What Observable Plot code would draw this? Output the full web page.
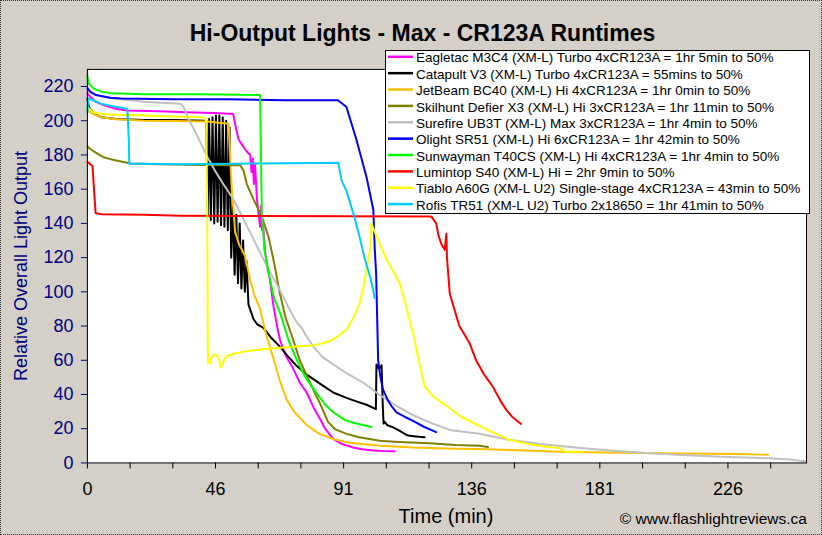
<!DOCTYPE html>
<html><head><meta charset="utf-8">
<script src="https://cdn.jsdelivr.net/npm/d3@7"></script>
<script src="https://cdn.jsdelivr.net/npm/@observablehq/plot@0.6"></script>
<style>
html,body{margin:0;padding:0;background:#fff;}
#wrap{position:relative;width:822px;height:535px;background:#d4d0c8;font-family:"Liberation Sans",Arial,sans-serif;overflow:hidden;box-sizing:border-box;border:1px dotted #333;}
#chart{position:absolute;left:-1px;top:-1px;}
.t{position:absolute;white-space:nowrap;line-height:1;}
#title{left:421.5px;top:21px;transform:translateX(-50%);font-weight:bold;font-size:23px;color:#000;}
#xlabel{left:445px;top:505px;transform:translateX(-50%);font-size:20px;color:#000;}
#ylabel{left:20px;top:265px;transform:translate(-50%,-50%) rotate(-90deg);font-size:18px;color:#000080;}
#credit{right:14px;top:510px;font-size:15.5px;color:#000;}
#legend{position:absolute;left:384px;top:49px;}
</style>
</head><body>
<div id="wrap">
  <div id="chart"></div>
  <div id="title" class="t">Hi-Output Lights - Max - CR123A Runtimes</div>
  <div id="xlabel" class="t">Time (min)</div>
  <div id="ylabel" class="t">Relative Overall Light Output</div>
  <div id="credit" class="t">© www.flashlightreviews.ca</div>
  <div id="legend"></div>
</div>
<script>
// ---- Data (time in minutes, relative output) ----
const eagletac = [[0,216],[1,214],[3,211],[6,209],[10,207],[14,206],[25,205.5],[35,205],[45,204.5],[51.5,204],[52.2,198],[53.4,189],[55,185],[56.3,182],[57.5,180],[58,170],[58.4,178],[58.8,163],[59.2,175],[59.9,154],[60.5,145],[61,138],[61.3,150],[61.7,136],[62,140],[62.8,123],[63.5,115],[64.5,107],[65.7,92],[67,80],[68,72],[70,63],[72.7,55],[75,47],[77.5,41],[80,32],[82.1,26],[84,20],[86.8,14],[90,11],[93.9,9],[97,8],[101,7.2],[105,6.9],[108.6,6.8]];
const catapult = [[0,213],[0.5,208],[2.3,204],[5,202],[10,201],[20,200.5],[30,200.5],[42,200],[42.5,145],[43,201],[43.6,142],[44.2,202],[44.8,140],[45.4,203],[46,141],[46.6,203],[47.2,139],[47.8,202],[48.4,138],[49,200],[49.6,136],[50.2,196],[50.8,120],[51.4,150],[52,110],[52.6,145],[53.2,105],[53.8,140],[54.4,102],[55,130],[55.6,100],[56.2,118],[56.9,92.5],[58.7,84],[60,81],[62.2,79],[65,73],[68,68],[71,62],[74,56.6],[78,51],[83.3,45],[87,41],[91.5,38],[95,36],[98.6,34],[101.9,31.4],[102.1,57.6],[103,55],[103.9,57],[104.3,35],[104.6,23],[105,24],[106,22],[108,20.8],[110,19],[113.2,16],[116,15.5],[119.1,15]];
const jetbeam = [[0,206],[2,204],[5,202],[9.4,201],[20,200],[30,199.8],[42.3,199.6],[49.9,198.3],[50.3,185],[50.5,177],[51,160],[51.5,150],[52.2,135],[53.5,128],[55.7,121],[57.5,107],[59,98],[61,90],[63,76],[65.7,61],[68,48],[70.4,37],[73,30],[77.5,22],[82,17],[86.8,14],[92,12],[97,11],[103.3,10],[115,9],[130,8.3],[138.5,8.1],[150,7.5],[169,6.4],[190,6],[210,5.5],[230,5.2],[240.4,4.8]];
const skilhunt = [[0,185],[1,183.5],[3.5,180.8],[6,178.5],[9.4,177],[15.2,175],[25,174.5],[40,174.2],[54,174],[55.1,171],[56.3,163],[58.7,154],[61.6,144],[64,132],[65.7,119],[68,99],[70,85],[72.7,72],[75,60],[77.5,51],[80,42],[82.1,35],[85,24],[87.4,19.8],[91.5,17],[96,15],[103.3,13],[110,12.3],[120.9,11.5],[130,10.5],[138.5,10],[141.5,9.3]];
const surefire = [[0,229],[0.2,217],[3,215],[9.4,213],[21,211],[32.9,210],[34,208],[36,200],[38,194],[42.3,179],[45,171],[48,163],[51.6,154],[55,143],[58,133],[61.6,121],[64,113],[68,101],[71,91],[74,82],[75.7,79],[77,75],[79.8,68],[83,62],[86.8,57.6],[92,52],[97.4,47],[103,40],[109.2,33.4],[115,28],[120.9,23.7],[128,19.3],[138.5,17],[149,13.5],[160,11],[175,8.6],[187,7],[198.6,5.7],[210,4.7],[222,3.8],[232,3.2],[241,2.8],[248,2],[254,0.9]];
const olight = [[0,219],[1,217],[3,215],[8,213.5],[12,213],[30,212.5],[50,212.5],[70,212],[88.5,212],[91.5,208],[95,189],[98.6,167],[101,148],[101.5,125],[102,110],[102.7,60],[103.5,50],[104.4,43],[106,37],[107.5,33],[109.2,29.5],[112,27],[115,24.6],[119,21],[123.2,18]];
const sunwayman = [[0,226],[0.5,222],[2,219],[5,217],[9,216],[20,215.5],[40,215.5],[61,215],[61.3,180],[61.6,146],[62.5,125],[64.5,107],[66,96],[68,88],[71,72],[74,60],[77,50],[80,43],[84,34],[87,29.5],[91,25],[95,23],[100.3,21]];
const lumintop = [[0,176],[1.8,173.5],[2.9,146],[5,145.3],[20,145],[32.9,144.5],[60,144.3],[90,144.2],[121.5,144],[123.2,140],[124,133],[125,128],[126.2,124.6],[126.8,134],[127,120],[128,99],[130.3,86],[131.4,80],[135,70],[137.3,60],[140,52],[143.2,44.6],[146,36],[148,31],[150,27],[153.2,22.8]];
const tiablo = [[0,208],[2,205],[5,204],[10,203.5],[20,203],[30,202.5],[41,202],[42,200],[42.3,150],[42.5,80],[42.6,58.6],[43.2,58],[44,62.5],[45,63.4],[46.2,62],[47.2,55.7],[48,59],[49.3,62.5],[52,64],[56.3,65.4],[62,66.5],[68,67.3],[74,68],[79.8,68.7],[83,70],[85.7,71.2],[88,73.5],[91.5,78],[94,85],[96.2,93.5],[97.5,103],[98.6,113],[99.8,124.6],[100.3,140],[101.5,135],[103,129],[105.6,119],[108,112],[110.3,105],[112.5,92],[115,76],[117,60],[119.1,45],[122,39],[126.8,33.4],[132,27],[138.5,21.7],[143,18],[149,13.6],[156,11],[162,9.5],[166.8,8.7],[168.6,6.7],[175,6.5]];
const rofis = [[0,205],[0.3,213],[2,212],[4.7,210],[9,208.5],[14.1,207],[14.6,190],[14.8,175],[20,174.8],[32.9,174.6],[60,175],[88.6,175.4],[89.8,165],[91.5,159],[93.9,146],[96,133],[98,119],[100,108],[101.5,96.4]];

const seriesData = [eagletac, catapult, jetbeam, skilhunt, surefire, olight, sunwayman, lumintop, tiablo, rofis];
const seriesColors = ["#FF00FF","#000000","#FFC000","#808000","#C0C0C0","#0000FF","#00FF00","#FF0000","#FFFF00","#00CCFF"];
const legendLabels = [
  "Eagletac M3C4 (XM-L) Turbo 4xCR123A = 1hr 5min to 50%",
  "Catapult V3 (XM-L) Turbo 4xCR123A = 55mins to 50%",
  "JetBeam BC40 (XM-L) Hi 4xCR123A = 1hr 0min to 50%",
  "Skilhunt Defier X3 (XM-L) Hi 3xCR123A = 1hr 11min to 50%",
  "Surefire UB3T (XM-L) Max 3xCR123A = 1hr 4min to 50%",
  "Olight SR51 (XM-L) Hi 6xCR123A = 1hr 42min to 50%",
  "Sunwayman T40CS (XM-L) Hi 4xCR123A = 1hr 4min to 50%",
  "Lumintop S40 (XM-L) Hi = 2hr 9min to 50%",
  "Tiablo A60G (XM-L U2) Single-stage 4xCR123A = 43min to 50%",
  "Rofis TR51 (XM-L U2) Turbo 2x18650 = 1hr 41min to 50%"
];
const xTickLabels = ["0","46","91","136","181","226"];
const xTickStep = 45.25; // spacing of labelled ticks on the time axis
const yTicks = [0,20,40,60,80,100,120,140,160,180,200,220];

// ---- Chart ----
const xMajor = xTickLabels.map((_, i) => i * xTickStep);
const xMinor = d3.range(1, 17).filter(k => k % 3 !== 0).map(k => k * xTickStep / 3);

const chart = Plot.plot({
  width: 822, height: 535,
  marginLeft: 87, marginRight: 15, marginTop: 69, marginBottom: 72,
  style: {background: "transparent", fontFamily: "'Liberation Sans', Arial, sans-serif", overflow: "visible"},
  x: {domain: [0, 254]},
  y: {domain: [0, 230]},
  marks: [
    Plot.frame({fill: "white", stroke: null}),
    ...seriesData.map((d, i) => Plot.line(d, {x: p => p[0], y: p => p[1], stroke: seriesColors[i], strokeWidth: 2, strokeLinejoin: "round"})),
    Plot.frame({stroke: "#000", strokeWidth: 1}),
    Plot.axisY(yTicks, {tickSize: 6, tickPadding: 8, fontSize: 18, color: "#000080", label: null}),
    Plot.axisX(xMajor, {tickSize: 6, tickPadding: 13, fontSize: 18, color: "#000", label: null,
      tickFormat: d => xTickLabels[Math.round(d / xTickStep)]}),
    Plot.axisX(xMinor, {tickSize: 6, color: "#000", label: null, tickFormat: () => ""})
  ]
});
document.getElementById("chart").appendChild(chart);

// ---- Legend ----
const lw = 425, lh = 164, rowH = 16.37;
const leg = d3.select("#legend").append("svg").attr("width", lw).attr("height", lh)
  .style("font-family", "'Liberation Sans', Arial, sans-serif");
leg.append("rect").attr("x", 0.5).attr("y", 0.5).attr("width", lw - 1).attr("height", lh - 1)
  .attr("fill", "#fff").attr("stroke", "#000");
legendLabels.forEach((lab, i) => {
  const yy = 6.8 + i * rowH;
  leg.append("line").attr("x1", 3).attr("x2", 28).attr("y1", yy).attr("y2", yy)
    .attr("stroke", seriesColors[i]).attr("stroke-width", 2.5);
  leg.append("text").attr("x", 31).attr("y", yy + 5.6).attr("font-size", 13.5).attr("fill", "#000").text(lab);
});
</script>
</body></html>
